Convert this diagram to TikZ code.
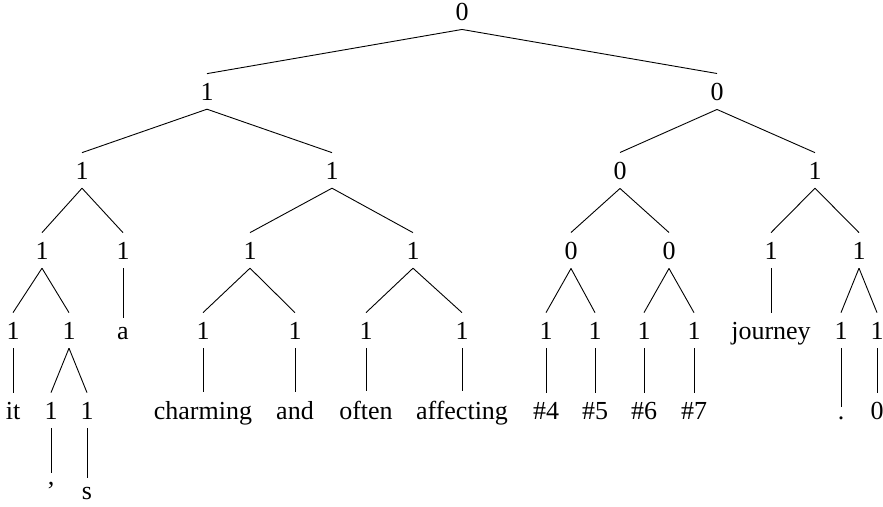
\documentclass[tikz,border=0pt]{standalone}
\usepackage{fontspec}
\setmainfont{Liberation Serif}
\begin{document}
\begin{tikzpicture}[x=1pt,y=1pt,
  tn/.style={anchor=base, inner xsep=0pt, inner ysep=9pt, font=\fontsize{26}{30}\selectfont},
  br/.style={line width=0.9pt, black}]
\useasboundingbox (0,0) rectangle (883,-506);
% level 0
\node[tn] (r) at (462,-20) {0};
% level 1
\node[tn] (a) at (207,-100) {1};
\node[tn] (b) at (717,-100) {0};
% level 2
\node[tn] (aa) at (82,-179) {1};
\node[tn] (ab) at (332,-179) {1};
\node[tn] (ba) at (620,-179) {0};
\node[tn] (bb) at (815,-179) {1};
% level 3
\node[tn] (aaa) at (42,-259) {1};
\node[tn] (aab) at (123,-259) {1};
\node[tn] (aba) at (250,-259) {1};
\node[tn] (abb) at (413,-259) {1};
\node[tn] (baa) at (571,-259) {0};
\node[tn] (bab) at (669,-259) {0};
\node[tn] (bba) at (771,-259) {1};
\node[tn] (bbb) at (859,-259) {1};
% level 4
\node[tn] (aaaa) at (13,-339) {1};
\node[tn] (aaab) at (69,-339) {1};
\node[tn] (aabw) at (123,-339) {a};
\node[tn] (abaa) at (203,-339) {1};
\node[tn] (abab) at (295,-339) {1};
\node[tn] (abba) at (366,-339) {1};
\node[tn] (abbb) at (462,-339) {1};
\node[tn] (baaa) at (546,-339) {1};
\node[tn] (baab) at (595,-339) {1};
\node[tn] (baba) at (644,-339) {1};
\node[tn] (babb) at (694,-339) {1};
\node[tn] (bbaw) at (771,-339) {journey};
\node[tn] (bbba) at (841,-339) {1};
\node[tn] (bbbb) at (877,-339) {1};
% level 5
\node[tn] (aaaaw) at (13,-419) {it};
\node[tn] (aaaba) at (51,-419) {1};
\node[tn] (aaabb) at (87,-419) {1};
\node[tn] (abaaw) at (203,-419) {charming};
\node[tn] (ababw) at (295,-419) {and};
\node[tn] (abbaw) at (366,-419) {often};
\node[tn] (abbbw) at (462,-419) {affecting};
\node[tn] (baaaw) at (546,-419) {\#4};
\node[tn] (baabw) at (595,-419) {\#5};
\node[tn] (babaw) at (644,-419) {\#6};
\node[tn] (babbw) at (694,-419) {\#7};
\node[tn] (bbbaw) at (841,-419) {.};
\node[tn] (bbbbw) at (877,-419) {0};
% level 6
\node[tn] (aaabaw) at (51,-499) {’};
\node[tn] (aaabbw) at (87,-499) {s};
% branches
\foreach \p/\c in {r/a, r/b,
  a/aa, a/ab, b/ba, b/bb,
  aa/aaa, aa/aab, ab/aba, ab/abb, ba/baa, ba/bab, bb/bba, bb/bbb,
  aaa/aaaa, aaa/aaab, aab/aabw, aba/abaa, aba/abab, abb/abba, abb/abbb,
  baa/baaa, baa/baab, bab/baba, bab/babb, bba/bbaw, bbb/bbba, bbb/bbbb,
  aaaa/aaaaw, aaab/aaaba, aaab/aaabb, abaa/abaaw, abab/ababw, abba/abbaw, abbb/abbbw,
  baaa/baaaw, baab/baabw, baba/babaw, babb/babbw, bbba/bbbaw, bbbb/bbbbw,
  aaaba/aaabaw, aaabb/aaabbw}
  \draw[br] (\p.south) -- (\c.north);
\end{tikzpicture}
\end{document}
